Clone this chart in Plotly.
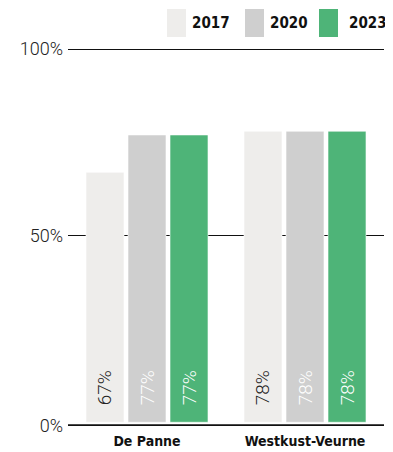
import plotly.graph_objects as go

categories = ["De Panne", "Westkust-Veurne"]
years = ["2017", "2020", "2023"]
values_2017 = [67, 78]
values_2020 = [77, 78]
values_2023 = [77, 78]
tick_vals = [-1, 50, 100]
tick_text = ["0%", "50%", "100%"]

colors = {"2017": "#eeedeb", "2020": "#cfcfcf", "2023": "#4eb478"}
text_colors = {"2017": "#222222", "2020": "#ffffff", "2023": "#ffffff"}
series = {"2017": values_2017, "2020": values_2020, "2023": values_2023}

COND = "Liberation Sans Narrow, DejaVu Sans Condensed, Roboto, sans-serif"
NB = "\u00a0"

# page body has an 8px margin; compensate so the plot lands where the reference has it
OFF = 8
W, Hh = 393 - OFF, 452 - OFF
L, R, T, B = 68 - OFF, 9, 48 - OFF, 26
PW = W - L - R
PH = Hh - T - B

fig = go.Figure()
for y in years:
    vals = series[y]
    fig.add_trace(go.Bar(
        x=categories, y=vals, name=y,
        marker=dict(color=colors[y], line=dict(color="#ffffff", width=0.6)),
        text=[NB * 3 + f"{v}%" for v in vals],
        textposition="inside", insidetextanchor="start", textangle=-90,
        textfont=dict(family="Roboto", size=19, color=text_colors[y], weight=300),
        cliponaxis=False, showlegend=False,
    ))

fig.update_layout(
    width=W, height=Hh,
    margin=dict(l=L, r=R, t=T, b=B, autoexpand=False),
    paper_bgcolor="white", plot_bgcolor="white",
    barmode="group", bargap=0.2025, bargroupgap=0.095,
    xaxis=dict(
        range=[-0.5, 1.5], showgrid=False, zeroline=False, showline=False,
        ticks="", automargin=False,
        tickfont=dict(family=COND, size=14, color="#111111", weight=700),
        ticklabelstandoff=5,
    ),
    yaxis=dict(
        range=[-1, 100.3], tickvals=tick_vals, ticktext=tick_text,
        showgrid=True, gridcolor="#111111", gridwidth=1, zeroline=False,
        showline=False, ticks="", automargin=False,
        tickfont=dict(family="Roboto", size=18, color="#222222", weight=300),
        ticklabelstandoff=4,
    ),
    shapes=[
        dict(type="line", xref="paper", yref="y", x0=0, x1=1, y0=-1, y1=-1,
             line=dict(color="#111111", width=3.5), layer="above"),
    ],
)

# custom legend (reference pixel positions converted to paper coords)
leg_x = [167, 245, 319]
lab_x = [192, 270, 349]

def px_x(px):
    return (px - OFF - L) / PW

def px_y(py):
    return (Hh - B - (py - OFF)) / PH

for i, y in enumerate(years):
    fig.add_shape(type="rect", xref="paper", yref="paper",
                  x0=px_x(leg_x[i]), x1=px_x(leg_x[i] + 19),
                  y0=px_y(37), y1=px_y(9),
                  line=dict(width=0), fillcolor=colors[y])
    fig.add_annotation(xref="paper", yref="paper",
                       x=px_x(lab_x[i] - 2), y=px_y(23),
                       xanchor="left", yanchor="middle", showarrow=False,
                       text=y, font=dict(family=COND, size=15,
                                         color="#111111", weight=700))

fig.write_html("out.html")
